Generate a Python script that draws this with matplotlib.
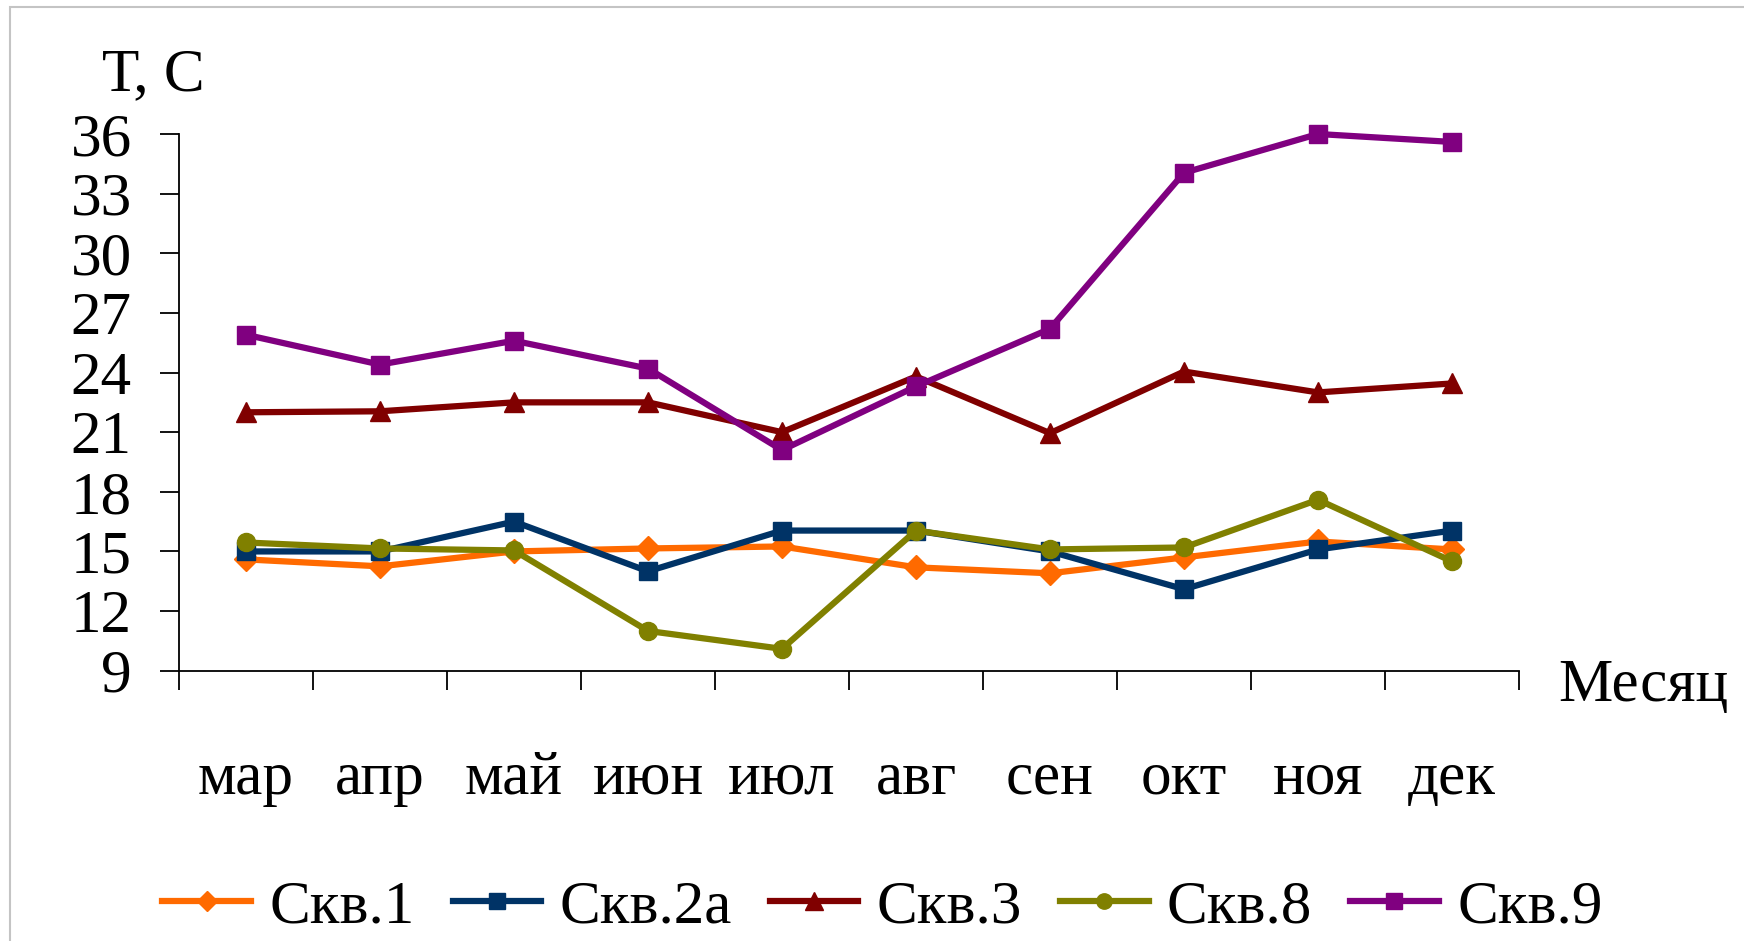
import matplotlib
matplotlib.use("Agg")
import matplotlib.pyplot as plt
from matplotlib.patches import Rectangle

plt.rcParams['font.family'] = ['Liberation Serif', 'DejaVu Serif']

months = ['мар', 'апр', 'май', 'июн', 'июл', 'авг', 'сен', 'окт', 'ноя', 'дек']

skv1 = [14.6, 14.25, 15.0, 15.15, 15.25, 14.2, 13.9, 14.7, 15.5, 15.1]
skv2a = [15.0, 15.0, 16.5, 14.0, 16.05, 16.05, 15.0, 13.1, 15.1, 16.05]
skv3 = [22.0, 22.05, 22.5, 22.5, 21.0, 23.8, 20.95, 24.05, 23.0, 23.45]
skv8 = [15.45, 15.15, 15.05, 11.0, 10.1, 16.05, 15.1, 15.2, 17.6, 14.5]
skv9 = [25.9, 24.4, 25.6, 24.2, 20.1, 23.3, 26.2, 34.05, 36.0, 35.6]

names = ['Скв.1', 'Скв.2а', 'Скв.3', 'Скв.8', 'Скв.9']
colors = ['#ff6a00', '#003366', '#800000', '#808000', '#800080']
markers = ['D', 's', '^', 'o', 's']
msizes = [12, 13, 15, 13, 13]

fs = 44

fig = plt.figure(figsize=(17.44, 9.41), dpi=100)
fig.add_artist(Rectangle((10 / 1744, -0.1), 1.2, 1 - 7 / 941 + 0.1,
                         transform=fig.transFigure, fill=False,
                         edgecolor='#c4c4c4', linewidth=1.5))

ax = fig.add_axes([179 / 1744, 1 - 670.7 / 941, 1340 / 1744, 536.7 / 941])

x = [i + 0.5 for i in range(len(months))]
series = [skv1, skv2a, skv3, skv8, skv9]
for vals, name, c, m, ms in zip(series, names, colors, markers, msizes):
    ax.plot(x, vals, color=c, linewidth=4.5, marker=m, markersize=ms,
            markeredgecolor=c, label=name, clip_on=False)

ax.set_xlim(0, 10)
ax.set_ylim(9, 36)
ax.set_yticks(range(9, 37, 3))
ax.set_xticks(range(0, 11))
ax.set_xticklabels([])
ax.set_xticks(x, minor=True)
ax.set_xticklabels(months, minor=True)

for s in ['top', 'right']:
    ax.spines[s].set_visible(False)
for s in ['left', 'bottom']:
    ax.spines[s].set_linewidth(1.3)

ax.tick_params(axis='y', direction='out', length=14, width=1.3, pad=20, labelsize=fs)
ax.tick_params(axis='x', which='major', direction='out', length=14, width=1.3)
ax.tick_params(axis='x', which='minor', length=0, pad=58, labelsize=fs)

fig.text(102 / 1744, 1 - 90 / 941, 'Т, С', fontsize=fs, ha='left', va='baseline')
fig.text(1558 / 1744, 1 - 701 / 941, 'Месяц', fontsize=fs, ha='left', va='baseline')

fig.legend(loc='center', bbox_to_anchor=(0.506, 0.036), ncol=5, frameon=False,
           fontsize=fs, handlelength=1.45, handletextpad=0.3, columnspacing=0.62,
           markerscale=0.85)

fig.savefig('out.png', dpi=100)
